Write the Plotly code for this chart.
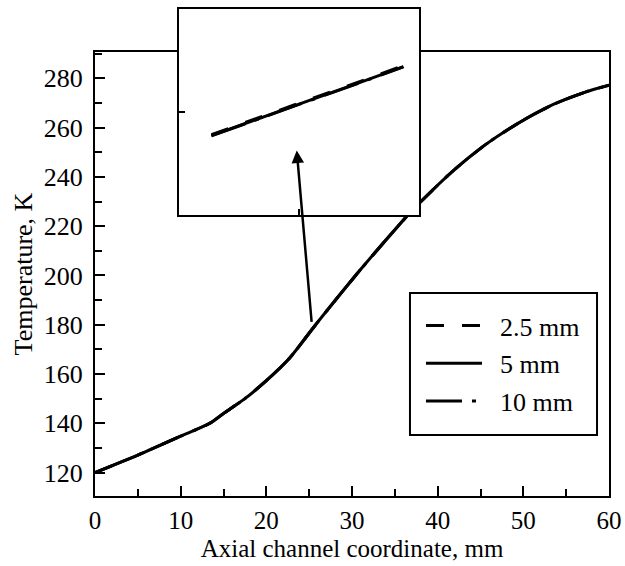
import plotly.graph_objects as go

# Axial wall-temperature profiles for three channel sizes
x_mm = [0, 5, 10, 13.4, 15, 17.5, 20, 22.7, 25.8, 30.9, 36.4, 37.9, 41.8, 45.7, 49.6, 53.5, 57.4, 60]
t_2_5mm = [120, 127.1, 134.8, 140, 144, 150, 157.3, 166.4, 180.2, 202, 224, 229.5, 242.5, 253.4, 262.2, 269.4, 274.6, 277.2]
t_5mm = [120, 127.1, 134.8, 140, 144, 150, 157.3, 166.4, 180.2, 202, 224, 229.5, 242.5, 253.4, 262.2, 269.4, 274.6, 277.2]
t_10mm = [120, 127.1, 134.8, 140, 144, 150, 157.3, 166.4, 180.2, 202, 224, 229.5, 242.5, 253.4, 262.2, 269.4, 274.6, 277.2]

# Close-up of the profiles near x = 25 mm (inset)
inset_x = [24.27, 24.67, 25.07, 25.47, 25.87]
inset_t_2_5mm = [175.8, 177.5, 179.15, 180.8, 182.5]
inset_t_5mm = [175.7, 177.4, 179.05, 180.7, 182.4]
inset_t_10mm = [175.68, 177.38, 179.03, 180.68, 182.38]

labels = ["2.5 mm", "5 mm", "10 mm"]
dashes = ["18px,18px", "solid", "36px,10px,4px,10px"]

# Arrow from the curve up to the inset
arrow_tail = (25.3, 180.6)
arrow_head = (23.55, 250.7)

FONT = "Liberation Serif"
FS = 26
INK = "black"
NBSP = "\u00a0"

fig = go.Figure()

for lab, dash, ys in zip(labels, dashes, [t_2_5mm, t_5mm, t_10mm]):
    fig.add_trace(go.Scatter(
        x=x_mm, y=ys, mode="lines", name=NBSP * 2 + lab,
        line=dict(color=INK, width=3, dash=dash, shape="spline", smoothing=0.7),
        xaxis="x", yaxis="y", legendgroup=lab,
    ))

for lab, dash, ys in zip(labels, dashes, [inset_t_2_5mm, inset_t_5mm, inset_t_10mm]):
    fig.add_trace(go.Scatter(
        x=inset_x, y=ys, mode="lines", name=lab, showlegend=False,
        line=dict(color=INK, width=3, dash=dash),
        xaxis="x2", yaxis="y2",
    ))

axis_common = dict(
    showline=True, linecolor=INK, linewidth=2, mirror=True,
    showgrid=False, zeroline=False, automargin=False,
    ticks="inside", tickcolor=INK, tickwidth=2, ticklen=10,
)

fig.update_layout(
    width=625, height=566,
    margin=dict(l=95, r=16, t=9, b=70),
    paper_bgcolor="white", plot_bgcolor="white",
    font=dict(family=FONT, size=FS, color=INK),
    xaxis=dict(
        axis_common, domain=[0, 1], anchor="y",
        range=[0, 60], tick0=0, dtick=10,
        tickfont=dict(family=FONT, size=25, color=INK),
        minor=dict(dtick=5, ticks="inside", ticklen=7, tickwidth=2, tickcolor=INK),
        ticklabelstandoff=1,
        title=dict(text="Axial channel coordinate, mm", standoff=6,
                   font=dict(family=FONT, size=25, color=INK)),
    ),
    yaxis=dict(
        axis_common, domain=[0, 0.9117], anchor="x",
        range=[110.5, 290.7], tick0=120, dtick=20,
        tickfont=dict(family=FONT, size=FS, color=INK),
        minor=dict(dtick=10, ticks="inside", ticklen=7, tickwidth=2, tickcolor=INK),
        ticklabelstandoff=5,
        title=dict(text="Temperature, K", standoff=4,
                   font=dict(family=FONT, size=FS, color=INK)),
    ),
    xaxis2=dict(
        showline=True, linecolor=INK, linewidth=2, mirror=True,
        showgrid=False, zeroline=False, automargin=False,
        domain=[0.1634, 0.6304], anchor="y2", range=[24, 26],
        ticks="inside", tickcolor=INK, tickwidth=2, ticklen=6,
        tickvals=[25], showticklabels=False,
    ),
    yaxis2=dict(
        showline=True, linecolor=INK, linewidth=2, mirror=True,
        showgrid=False, zeroline=False, automargin=False,
        domain=[0.577, 1.0], anchor="x2", range=[168, 188],
        ticks="inside", tickcolor=INK, tickwidth=2, ticklen=6,
        tickvals=[178], showticklabels=False,
    ),
    legend=dict(
        x=0.6342, y=0.3984, xanchor="left", yanchor="top",
        bgcolor="rgba(0,0,0,0)", borderwidth=0,
        font=dict(family=FONT, size=FS, color=INK),
        itemwidth=56, tracegroupgap=1, traceorder="grouped",
    ),
    showlegend=True,
)

# Legend frame
fig.add_shape(
    type="rect", xref="paper", yref="paper",
    x0=0.6128, x1=0.9767, y0=0.1253, y1=0.4168,
    line=dict(color=INK, width=2), fillcolor="white", layer="below",
)

fig.add_annotation(
    x=arrow_head[0], y=arrow_head[1], ax=arrow_tail[0], ay=arrow_tail[1],
    xref="x", yref="y", axref="x", ayref="y",
    showarrow=True, arrowhead=2, arrowsize=1, arrowwidth=2.5, arrowcolor=INK, text="",
)

fig.write_html("out.html")
